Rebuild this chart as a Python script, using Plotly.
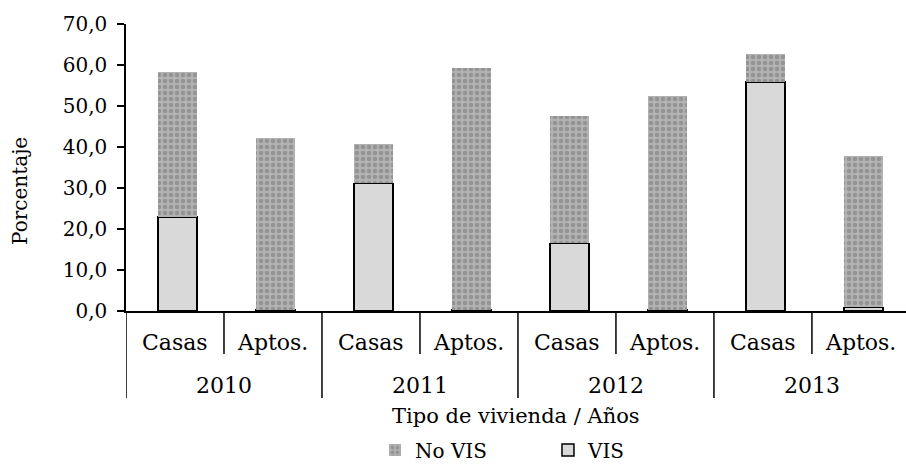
import plotly.graph_objects as go

years = ["2010", "2011", "2012", "2013"]
tipos = ["Casas", "Aptos."]
categories = [f"{y} {t}" for y in years for t in tipos]
vis = [22.9, 0.2, 31.1, 0.2, 16.5, 0.2, 55.9, 0.9]
no_vis = [35.3, 41.9, 9.6, 59.0, 31.1, 52.2, 6.8, 36.9]

FONT = "DejaVu Serif"
PLOT_H = 464 - 24 - 153

fig = go.Figure()
fig.add_trace(go.Bar(
    x=categories, y=vis, name="VIS", width=0.4, offset=-0.175,
    marker=dict(color="#d9d9d9", line=dict(color="black", width=1.5)),
))
fig.add_trace(go.Bar(
    x=categories, y=no_vis, name="No VIS", width=0.4, offset=-0.175,
    marker=dict(color="#a3a3a3", line=dict(width=0),
                pattern=dict(shape=".", fgcolor="#767676", bgcolor="#b2b2b2",
                             size=6, solidity=0.45)),
))

annotations = []
shapes = []
for i, cat in enumerate(categories):
    tipo = tipos[i % 2]
    annotations.append(dict(x=cat, y=0, xref="x", yref="paper", text=tipo,
                            showarrow=False, yanchor="middle", yshift=-31,
                            font=dict(family=FONT, size=22)))
for k, y in enumerate(years):
    annotations.append(dict(x=2 * k + 0.5, y=0, xref="x", yref="paper", text=y,
                            showarrow=False, yanchor="middle", yshift=-74,
                            font=dict(family=FONT, size=22)))
    shapes.append(dict(type="line", xref="x", yref="paper", x0=2 * k + 0.5, x1=2 * k + 0.5,
                       y0=0, y1=-43 / PLOT_H, line=dict(color="black", width=1.5)))
    shapes.append(dict(type="line", xref="x", yref="paper", x0=2 * k - 0.5, x1=2 * k - 0.5,
                       y0=0, y1=-87 / PLOT_H, line=dict(color="black", width=1.5)))

annotations.append(dict(x=0.5, y=0, xref="paper", yref="paper", text="Tipo de vivienda / Años",
                        showarrow=False, yanchor="middle", yshift=-105,
                        font=dict(family=FONT, size=21)))
annotations.append(dict(x=0, y=(311 - 191) / PLOT_H, xref="paper", yref="paper",
                        text="Porcentaje", textangle=-90, showarrow=False,
                        xanchor="center", yanchor="middle", xshift=-106,
                        font=dict(family=FONT, size=20)))

fig.update_layout(
    barmode="stack",
    width=906, height=464,
    margin=dict(l=126, r=0, t=24, b=153, autoexpand=False),
    paper_bgcolor="white", plot_bgcolor="white",
    separators=",.",
    font=dict(family=FONT, size=19, color="black"),
    showlegend=True,
    legend=dict(orientation="h", x=0.541, xanchor="center", y=-139 / PLOT_H, yanchor="middle",
                traceorder="reversed", font=dict(size=20), entrywidth=128,
                itemwidth=30, tracegroupgap=0),
    annotations=annotations,
    shapes=shapes,
    xaxis=dict(
        type="category", range=[-0.5, 7.46],
        showline=True, linecolor="black", linewidth=1.5,
        showticklabels=False, ticks="",
        showgrid=False,
    ),
    yaxis=dict(
        range=[0, 70], dtick=10, tickformat=".1f",
        showline=True, linecolor="black", linewidth=1.5,
        ticks="outside", ticklen=7, tickcolor="black", tickwidth=1.5,
        ticklabelstandoff=6,
        showgrid=False, zeroline=False,
        tickfont=dict(size=20),
    ),
)

fig.write_html("out.html", config={"displayModeBar": False},
               post_script="document.body.style.margin='0px';")
